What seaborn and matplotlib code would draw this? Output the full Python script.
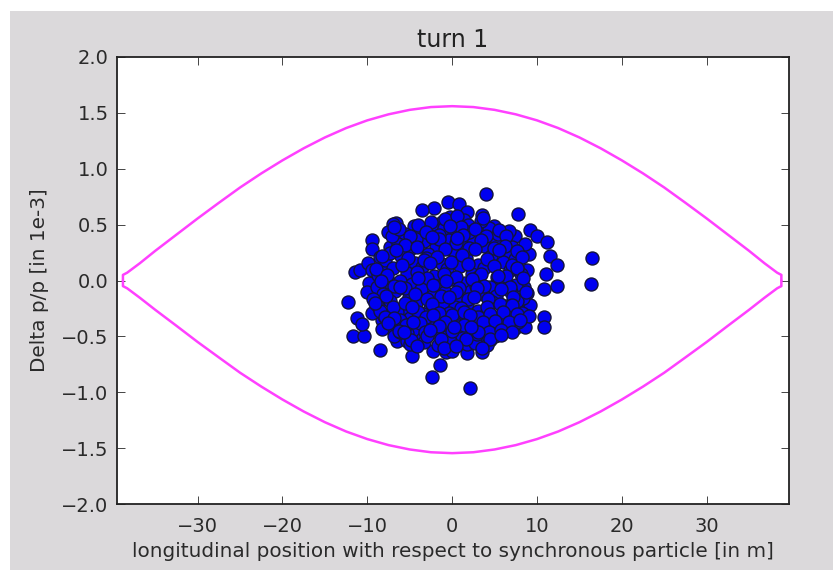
import matplotlib
matplotlib.use('Agg')
import matplotlib.pyplot as plt
from matplotlib.patches import Rectangle
import seaborn as sns

# separatrix
sep_x = [-38.8, -38.8, -38.3, -36.8, -35, -32.5, -30, -27.5, -25, -22.5, -20, -17.5, -15, -12.5,
         -10, -7.5, -5, -2.5, 0, 2.5, 5, 7.5, 10, 12.5, 15, 17.5, 20, 22.5, 25, 27.5, 30,
         32.5, 35, 36.8, 38.3, 38.8, 38.8]
sep_upper = [0.0, 0.05, 0.07, 0.155, 0.265, 0.41, 0.555, 0.695, 0.832, 0.958, 1.075, 1.183, 1.280, 1.364,
             1.433, 1.487, 1.527, 1.552, 1.56, 1.552, 1.527, 1.487, 1.433, 1.364, 1.280, 1.183, 1.075, 0.958, 0.832,
             0.695, 0.555, 0.41, 0.265, 0.155, 0.07, 0.05, 0.0]
sep_lower = [0.0, -0.05, -0.07, -0.155, -0.262, -0.405, -0.55, -0.688, -0.825, -0.949, -1.065, -1.172, -1.268, -1.351,
             -1.419, -1.473, -1.512, -1.537, -1.545, -1.537, -1.512, -1.473, -1.419, -1.351, -1.268, -1.172, -1.065,
             -0.949, -0.825, -0.688, -0.55, -0.405, -0.262, -0.155, -0.07, -0.05, 0.0]

# particles: outer ones read one by one, inner ones estimated from the blob
outer_x = [3.97, 7.78, 16.54, 16.31, -0.48, 0.78, -2.13, -3.58, 1.80, 3.57, 9.19, 9.98, 11.16, 7.35,
           11.55, 12.34, 11.08, 10.85, 12.34, 10.85, 10.85, 2.12, -2.40, -1.42, -4.76, -8.53, -11.64,
           -10.34, -12.31, -11.17, -10.66, -8.26, -11.48, -10.85, -9.48, -9.48, -9.95, -9.75, -9.99,
           -9.48, -8.69, -6.14, -6.45, -5.35, -3.97, -2.21, -0.71, 0.0, 1.80, 3.57, 1.73, 3.10, 4.48,
           6.32, 7.43, 8.53, 6.64, 9.19, 8.80, 8.49, 8.80, 9.0, 8.53, 5.70, 4.95, 1.45, -0.24, -1.22,
           -2.40, -4.49, -6.61, -7.0, -7.51, -7.32, -8.49, -9.48, -8.1]
outer_y = [0.774, 0.595, 0.20, -0.034, 0.706, 0.688, 0.652, 0.631, 0.61, 0.586, 0.452, 0.401, 0.348, 0.401,
           0.219, 0.142, 0.058, -0.073, -0.052, -0.329, -0.413, -0.965, -0.86, -0.753, -0.678, -0.625, -0.496,
           -0.496, -0.195, -0.332, -0.389, -0.356, 0.073, 0.094, 0.363, 0.282, 0.154, -0.025, -0.106,
           -0.288, -0.21, -0.443, -0.541, -0.538, -0.547, -0.628, -0.64, -0.628, -0.649, -0.643, -0.568, -0.547, -0.532,
           -0.425, -0.425, -0.413, -0.315, -0.219, -0.115, -0.055, 0.094, 0.234, 0.327, 0.363, 0.488, 0.542, 0.571, 0.527,
           0.497, 0.488, 0.512, 0.506, 0.437, 0.303, 0.213, 0.094, 0.109]

inner_x = [-5.6, -3.9, -2.6, -1.0, 0.3, 1.9, 3.2, 4.4, 5.9, 7.1,
           -6.4, -5.0, -3.3, -1.9, -0.4, 1.1, 2.5, 3.8, 5.2, 6.6,
           -7.9, -6.0, -4.4, -2.8, -1.2, 0.2, 1.6, 3.0, 4.6, 6.0, 7.4,
           -8.7, -7.0, -5.3, -3.6, -2.1, -0.6, 0.9, 2.3, 3.7, 5.3, 6.8, 8.1,
           -8.9, -7.5, -6.2, -4.7, -3.0, -1.5, 0.0, 1.5, 3.0, 4.5, 6.1, 7.5,
           -8.2, -6.7, -5.1, -3.7, -2.3, -0.8, 0.8, 2.2, 3.6, 5.2, 6.9, 8.3,
           -8.8, -7.3, -5.8, -4.3, -2.7, -1.1, 0.3, 1.7, 3.1, 4.7, 6.3, 7.8,
           -8.0, -6.5, -5.0, -3.4, -1.9, -0.4, 1.1, 2.6, 4.0, 5.6, 7.2, 8.6,
           -7.4, -5.7, -4.2, -2.8, -1.2, 0.3, 1.9, 3.3, 4.9, 6.0, 7.8,
           -6.9, -5.3, -3.6, -2.2, -0.7, 0.9, 2.4, 3.8, 5.3,
           -5.0, -3.3, -1.7, -0.2, 1.2, 2.7, 4.1, 5.0,
           -7.1, -4.3, -2.5, -0.9, 0.6, 2.0, 3.4, 5.4, 7.7,
           -6.3, -4.0, -1.6, 1.0, 3.6, 6.7, 7.7, -3.1, 0.4, 2.8]
inner_y = [0.42, 0.45, 0.40, 0.47, 0.44, 0.50, 0.43, 0.47, 0.38, 0.30,
           0.33, 0.28, 0.35, 0.30, 0.36, 0.33, 0.38, 0.31, 0.34, 0.24,
           0.18, 0.22, 0.16, 0.24, 0.15, 0.26, 0.20, 0.14, 0.22, 0.17, 0.19,
           0.05, 0.11, 0.07, 0.12, 0.04, 0.10, 0.13, 0.06, 0.11, 0.03, 0.09, 0.06,
           -0.06, -0.01, 0.0, -0.03, 0.02, -0.05, 0.01, -0.02, 0.03, -0.06, 0.0, -0.04,
           -0.12, -0.09, -0.15, -0.08, -0.13, -0.10, -0.16, -0.09, -0.12, -0.14, -0.10, -0.16,
           -0.22, -0.18, -0.25, -0.20, -0.26, -0.19, -0.24, -0.21, -0.27, -0.19, -0.23, -0.26,
           -0.32, -0.28, -0.34, -0.30, -0.36, -0.29, -0.33, -0.38, -0.30, -0.35, -0.29, -0.31,
           -0.42, -0.39, -0.45, -0.40, -0.44, -0.38, -0.46, -0.42, -0.39, -0.44, -0.37,
           -0.50, -0.47, -0.52, -0.46, -0.51, -0.48, -0.53, -0.49, -0.45,
           -0.57, -0.55, -0.58, -0.54, -0.50, -0.56, -0.58, -0.50,
           0.40, 0.37, 0.52, 0.55, 0.58, 0.43, 0.53, 0.42, 0.11,
           0.46, 0.50, 0.41, 0.48, 0.56, 0.44, -0.18, 0.20, 0.34, -0.05]

# second layer, fills the gaps of the dense middle
dense_x = [-6.8, -5.0, -3.1, -1.6, -0.2, 1.3, 2.7, 4.0, 5.5, 6.4,
           -7.3, -5.6, -4.1, -2.4, -0.9, 0.6, 2.0, 3.4, 4.9, 6.2, 7.7,
           -8.3, -6.6, -5.2, -3.3, -1.8, -0.1, 1.2, 2.7, 4.1, 5.5, 7.0, 8.2,
           -9.0, -7.7, -5.9, -4.2, -2.6, -1.0, 0.5, 1.9, 3.4, 4.9, 6.4, 7.7,
           -8.4, -6.9, -5.5, -4.0, -2.2, -0.7, 0.8, 2.3, 3.8, 5.4, 6.8, 8.4,
           -9.3, -7.8, -6.1, -4.4, -3.0, -1.3, 0.4, 1.9, 2.9, 4.2, 5.8, 7.2, 8.7,
           -8.5, -7.0, -5.5, -4.0, -2.4, -0.4, 1.1, 2.6, 4.1, 5.6, 7.1, 8.2,
           -9.1, -7.9, -6.2, -4.7, -3.1, -1.5, 0.0, 1.4, 3.0, 4.5, 6.0, 7.6, 9.0,
           -8.3, -6.9, -5.4, -3.8, -2.2, -0.8, 0.7, 2.1, 3.6, 5.0, 6.7, 8.0,
           -7.6, -6.2, -4.6, -3.2, -1.6, 0.0, 1.4, 2.9, 4.4, 5.7, 7.1,
           -6.3, -4.8, -3.0, -1.3, 0.2, 1.6, 3.0, 4.5, 5.8,
           -5.7, -4.2, -2.6, -1.0, 0.5, 2.2, 3.5]
dense_y = [0.48, 0.40, 0.43, 0.37, 0.49, 0.41, 0.46, 0.40, 0.45, 0.40,
           0.25, 0.32, 0.30, 0.39, 0.28, 0.38, 0.29, 0.36, 0.29, 0.31, 0.26,
           0.22, 0.27, 0.20, 0.18, 0.21, 0.17, 0.23, 0.28, 0.19, 0.27, 0.14, 0.21,
           0.10, 0.05, 0.14, 0.08, 0.16, 0.06, 0.03, 0.15, 0.06, 0.13, 0.04, 0.11,
           0.0, -0.05, -0.07, 0.02, -0.04, 0.0, -0.07, 0.01, -0.05, 0.04, -0.06, 0.02,
           -0.17, -0.14, -0.06, -0.12, -0.17, -0.14, -0.10, -0.17, -0.07, -0.17, -0.08, -0.15, -0.10,
           -0.27, -0.24, -0.20, -0.28, -0.21, -0.15, -0.25, -0.15, -0.24, -0.21, -0.22, -0.29,
           -0.20, -0.33, -0.35, -0.24, -0.33, -0.29, -0.31, -0.28, -0.33, -0.30, -0.28, -0.30, -0.32,
           -0.43, -0.34, -0.40, -0.38, -0.31, -0.37, -0.41, -0.31, -0.37, -0.36, -0.37, -0.35,
           -0.38, -0.46, -0.37, -0.46, -0.41, -0.45, -0.40, -0.48, -0.46, -0.44, -0.46,
           -0.45, -0.53, -0.50, -0.52, -0.42, -0.52, -0.46, -0.52, -0.49,
           -0.46, -0.59, -0.44, -0.60, -0.59, -0.42, -0.60]

x_ticks = [-30, -20, -10, 0, 10, 20, 30]
y_ticks = [-2.0, -1.5, -1.0, -0.5, 0.0, 0.5, 1.0, 1.5, 2.0]

sns.set_style('ticks')
plt.rcParams['font.family'] = ['DejaVu Sans']

W, H = 833, 570
fig = plt.figure(figsize=(W / 100, H / 100), dpi=100, facecolor='white')
# grey panel, the screenshot has a white strip on top and on the left
fig.patches.append(Rectangle((10 / W, 0), 1 - 10 / W, 1 - 11 / H, transform=fig.transFigure,
                             facecolor='#dbd9db', edgecolor='none', figure=fig, zorder=-1))
ax = fig.add_axes([117 / W, 1 - 504 / H, (789 - 117) / W, (504 - 57) / H], facecolor='white')

sns.lineplot(x=sep_x, y=sep_upper, color='#ff40ff', linewidth=1.8, sort=False, estimator=None, ax=ax)
sns.lineplot(x=sep_x, y=sep_lower, color='#ff40ff', linewidth=1.8, sort=False, estimator=None, ax=ax)
sns.scatterplot(x=outer_x + inner_x + dense_x, y=outer_y + inner_y + dense_y, color='#0000f0',
                edgecolor='#14143c', s=88, linewidth=1.0, alpha=1, ax=ax, zorder=3)

ax.set_xlim(-39.5, 39.7)
ax.set_ylim(-2, 2)
ax.set_xticks(x_ticks)
ax.set_yticks(y_ticks)
ax.tick_params(direction='in', top=True, right=True, length=5.5, width=0.7, color='#444444',
               labelsize=14, labelcolor='#2a2a2a')
ax.tick_params(axis='x', pad=9.5)
ax.tick_params(axis='y', pad=6)
for spine in ax.spines.values():
    spine.set_visible(True)
    spine.set_linewidth(1.3)
    spine.set_color('#222222')
ax.set_title('turn 1', fontsize=17, color='#222222', pad=7.5)
ax.set_xlabel('longitudinal position with respect to synchronous particle [in m]', fontsize=14.4,
              color='#2a2a2a', labelpad=4)
ax.set_ylabel('Delta p/p [in 1e-3]', fontsize=14.4, color='#2a2a2a', labelpad=9)

fig.savefig('out.png', dpi=100, facecolor=fig.get_facecolor())
